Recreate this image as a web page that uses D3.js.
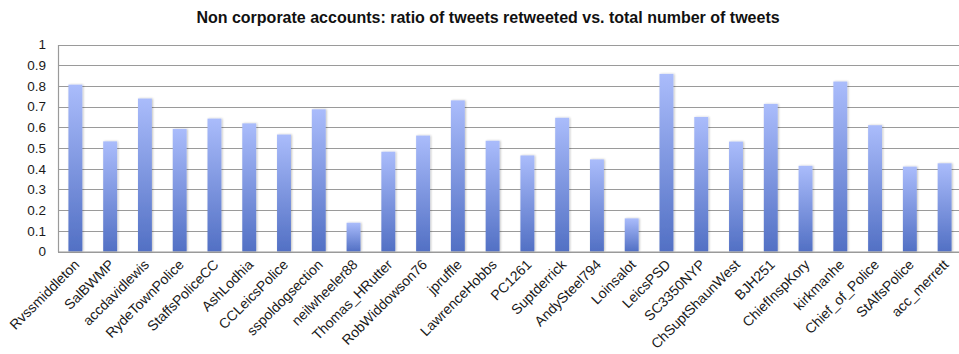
<!DOCTYPE html>
<html>
<head>
<meta charset="utf-8">
<script src="https://cdn.jsdelivr.net/npm/d3@7"></script>
<style>
  html, body { margin: 0; padding: 0; background: #fff; }
  svg { display: block; font-family: "Liberation Sans", Arial, Helvetica, sans-serif; }
</style>
</head>
<body>
<svg id="chart" width="959" height="354"></svg>
<script>
// Account names along the x axis
const accounts = [
  "Rvssmiddleton", "SalBWMP", "accdavidlewis", "RydeTownPolice", "StaffsPoliceCC",
  "AshLodhia", "CCLeicsPolice", "sspoldogsection", "neilwheeler88", "Thomas_HRutter",
  "RobWiddowson76", "jpruffle", "LawrenceHobbs", "PC1261", "Suptderrick",
  "AndySteel794", "Loinsalot", "LeicsPSD", "SC3350NYP", "ChSuptShaunWest",
  "BJH251", "ChiefInspKory", "kirkmanhe", "Chief_of_Police", "StAlfsPolice", "acc_merrett"
];

// Ratio of tweets retweeted to total tweets for each account
const ratios = [
  0.806, 0.532, 0.739, 0.592, 0.642,
  0.619, 0.565, 0.687, 0.139, 0.482,
  0.560, 0.730, 0.535, 0.464, 0.646,
  0.445, 0.160, 0.858, 0.650, 0.531,
  0.713, 0.414, 0.821, 0.610, 0.410, 0.426
];

// Y axis tick values
const yTicks = [0, 0.1, 0.2, 0.3, 0.4, 0.5, 0.6, 0.7, 0.8, 0.9, 1];

const chartTitle = "Non corporate accounts: ratio of tweets retweeted vs. total number of tweets";

const svg = d3.select("#chart");
const margin = { left: 58, top: 44.5, bottom: 251.5 };
const plotRight = 962;

const x = d3.scaleBand()
  .domain(accounts)
  .range([margin.left, plotRight])
  .paddingInner(0.6)
  .paddingOuter(0.3);

const y = d3.scaleLinear()
  .domain([0, 1])
  .range([margin.bottom, margin.top]);

// Bar gradient: light periwinkle at the top, deeper blue at the base
const defs = svg.append("defs");
const grad = defs.append("linearGradient")
  .attr("id", "barFill")
  .attr("x1", 0).attr("y1", 0).attr("x2", 0).attr("y2", 1);
grad.append("stop").attr("offset", "0%").attr("stop-color", "#aabcfb");
grad.append("stop").attr("offset", "100%").attr("stop-color", "#5270c4");

const shadow = defs.append("filter").attr("id", "barShadow")
  .attr("x", "-30%").attr("y", "-5%").attr("width", "160%").attr("height", "110%");
shadow.append("feGaussianBlur").attr("in", "SourceAlpha").attr("stdDeviation", 1).attr("result", "b");
shadow.append("feOffset").attr("in", "b").attr("dx", 0.5).attr("dy", 0).attr("result", "o");
shadow.append("feComponentTransfer").attr("in", "o").attr("result", "s")
  .append("feFuncA").attr("type", "linear").attr("slope", 0.25);
const merge = shadow.append("feMerge");
merge.append("feMergeNode").attr("in", "s");
merge.append("feMergeNode").attr("in", "SourceGraphic");

// Horizontal grid lines
svg.append("g")
  .selectAll("line")
  .data(yTicks)
  .join("line")
  .attr("x1", margin.left)
  .attr("x2", plotRight)
  .attr("y1", d => Math.round(y(d)) + 0.5)
  .attr("y2", d => Math.round(y(d)) + 0.5)
  .attr("stroke", "#9a9a9a")
  .attr("stroke-width", 1.2);

// Y axis labels
const yAxis = d3.axisLeft(y)
  .tickValues(yTicks)
  .tickFormat(d3.format("~g"))
  .tickSize(0)
  .tickPadding(12);
const yg = svg.append("g")
  .attr("transform", `translate(${margin.left},0)`)
  .call(yAxis);
yg.select(".domain").attr("stroke", "#9a9a9a").attr("stroke-width", 1.2);
yg.selectAll("text")
  .attr("fill", "#1a1a1a")
  .style("font-size", "13.5px");

// Bars
svg.append("g")
  .selectAll("rect")
  .data(accounts)
  .join("rect")
  .attr("x", d => x(d))
  .attr("width", x.bandwidth())
  .attr("y", (d, i) => y(ratios[i]))
  .attr("height", (d, i) => y(0) - y(ratios[i]))
  .attr("fill", "url(#barFill)")
  .attr("filter", "url(#barShadow)");

// X axis baseline and rotated account labels
const xAxis = d3.axisBottom(x).tickSize(0).tickPadding(0);
const xg = svg.append("g")
  .attr("transform", `translate(0,${y(0)})`)
  .call(xAxis);
xg.select(".domain").attr("stroke", "#9a9a9a").attr("stroke-width", 1.2);
xg.selectAll(".tick text")
  .attr("fill", "#1a1a1a")
  .style("font-size", "14px")
  .attr("text-anchor", "end")
  .attr("dy", 0)
  .attr("transform", "translate(5,14) rotate(-45)");

// Title
svg.append("text")
  .attr("x", 488)
  .attr("y", 23)
  .attr("text-anchor", "middle")
  .attr("font-weight", "bold")
  .style("font-size", "16px")
  .attr("fill", "#111")
  .text(chartTitle);
</script>
</body>
</html>
